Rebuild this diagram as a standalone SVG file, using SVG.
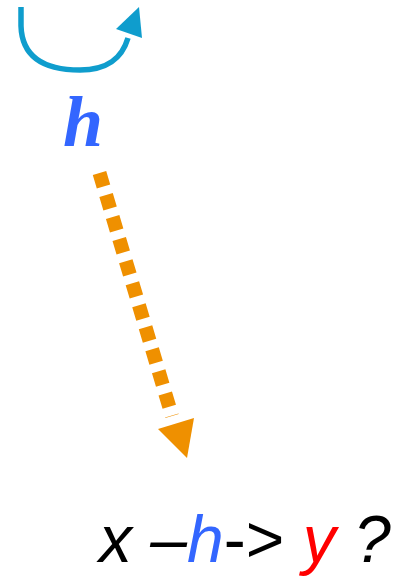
<svg xmlns="http://www.w3.org/2000/svg" width="401" height="576" viewBox="0 0 401 576">
<style>
.loop{fill:none;stroke:#0f9dcd;stroke-width:5.5;stroke-linecap:butt}
.dots{fill:none;stroke:#ef9000;stroke-width:14;stroke-dasharray:14 9}
.lbl{font-family:"Liberation Sans",Arial,sans-serif;font-style:italic;font-size:66px;fill:#000}
</style>
<rect width="401" height="576" fill="#fff"/>
<g id="connectors">
<g id="self-loop">
<path class="loop" d="M21,7 L21,26 C22,58 45,70 80,70 C108,70 122,58 128,38"/>
<polygon points="139,7 116,29 142,38" fill="#0f9dcd"/>
</g>
<g id="dotted-arrow">
<path class="dots" d="M99.5,173 L172,416"/>
<polygon points="158,429 194,418 187,458" fill="#ef9000"/>
</g>
</g>
<g id="node-h">
<text x="63" y="146" font-family="'Liberation Serif','Times New Roman',serif" font-weight="bold" font-style="italic" font-size="72" fill="#3366ff">h</text>
</g>
<g id="node-question">
<text class="lbl" x="99" y="562">x –<tspan fill="#3366ff">h</tspan><tspan font-style="normal">-&gt;</tspan> <tspan fill="#ff0000">y</tspan> ?</text>
</g>
</svg>
